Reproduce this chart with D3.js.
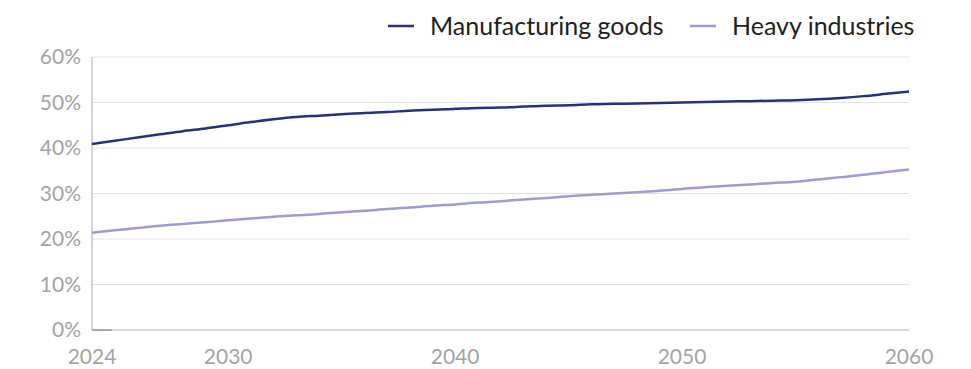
<!DOCTYPE html>
<html><head><meta charset="utf-8">
<script src="https://cdn.jsdelivr.net/npm/d3@7/dist/d3.min.js"></script>
<style>body{margin:0;background:#fff}svg{display:block}</style>
</head><body><svg id="c" width="971" height="369"></svg>
<script>
const years = d3.range(2024, 2061);
const manufacturing = [40.9,41.6,42.3,43.0,43.7,44.3,45.0,45.7,46.3,46.8,47.1,47.4,47.7,47.9,48.2,48.4,48.6,48.8,48.9,49.1,49.3,49.4,49.6,49.7,49.8,49.9,50.0,50.1,50.2,50.3,50.4,50.5,50.7,51.0,51.4,51.9,52.4];
const heavy = [21.4,21.9,22.4,22.9,23.3,23.7,24.1,24.5,24.9,25.2,25.5,25.9,26.2,26.6,26.9,27.3,27.6,28.0,28.3,28.7,29.0,29.4,29.7,30.0,30.3,30.6,31.0,31.4,31.7,32.0,32.3,32.6,33.1,33.6,34.1,34.7,35.3];
const xTicks = [2024, 2030, 2040, 2050, 2060];
const yTicks = [0, 10, 20, 30, 40, 50, 60];
const seriesNames = ["Manufacturing goods", "Heavy industries"];
const colors = ["#27307a", "#9d9dcc"];

const svg = d3.select("#c");
const font = "Lato, 'Open Sans', sans-serif";
const x = d3.scaleLinear().domain([2024, 2060]).range([92, 909]);
const y = d3.scaleLinear().domain([0, 60]).range([330, 57]);

// gridlines
svg.append("g").selectAll("line").data(yTicks.filter(d => d > 0)).join("line")
  .attr("x1", 92).attr("x2", 909).attr("y1", d => y(d)).attr("y2", d => y(d))
  .attr("stroke", "#e2e2e2").attr("stroke-width", 1);

// axes lines
svg.append("line").attr("x1", 92).attr("x2", 909).attr("y1", y(0)).attr("y2", y(0))
  .attr("stroke", "#c8c8c8").attr("stroke-width", 1.5);
svg.append("line").attr("x1", 92).attr("x2", 92).attr("y1", y(60)).attr("y2", y(0))
  .attr("stroke", "#c8c8c8").attr("stroke-width", 1.5);
svg.append("line").attr("x1", 92).attr("x2", 112).attr("y1", y(0)).attr("y2", y(0))
  .attr("stroke", "#9a9a9a").attr("stroke-width", 1.5);

// y labels
svg.append("g").selectAll("text").data(yTicks).join("text")
  .attr("x", 81).attr("y", d => y(d)).attr("dy", "0.35em")
  .attr("text-anchor", "end").attr("font-family", font).attr("font-size", 21)
  .attr("fill", "#a3a3a3").text(d => d + "%");

// x labels
svg.append("g").selectAll("text").data(xTicks).join("text")
  .attr("x", d => x(d)).attr("y", 357).attr("dy", "0.35em")
  .attr("text-anchor", "middle").attr("font-family", font).attr("font-size", 21)
  .attr("fill", "#a3a3a3").text(d => d);

// lines
const line = d3.line().x((d, i) => x(years[i])).y(d => y(d)).curve(d3.curveMonotoneX);
[heavy, manufacturing].forEach((s, k) => {
  svg.append("path").attr("d", line(s)).attr("fill", "none")
    .attr("stroke", k === 0 ? colors[1] : colors[0]).attr("stroke-width", 2.5)
    .attr("stroke-linejoin", "round");
});

// legend
const legX = [388, 690];
seriesNames.forEach((n, i) => {
  svg.append("line").attr("x1", legX[i]).attr("x2", legX[i] + 26).attr("y1", 26).attr("y2", 26)
    .attr("stroke", colors[i]).attr("stroke-width", 2.5);
  svg.append("text").attr("x", legX[i] + 42).attr("y", 26).attr("dy", "0.35em")
    .attr("font-family", font).attr("font-size", 25).attr("fill", "#1e1e1e").text(n);
});
</script></body></html>
